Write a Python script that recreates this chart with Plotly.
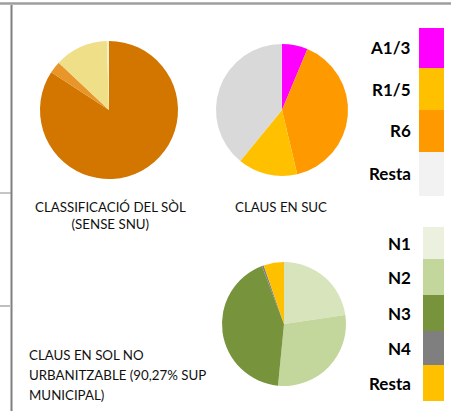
import plotly.graph_objects as go

W, H = 451, 411

# pie 1: classificació del sòl (sense SNU)
sol_labels = ["Urbà", "Urbanitzable", "Sistemes", "Altres"]
sol_values = [84.2, 2.8, 12.5, 0.5]
sol_colors = ["#D27600", "#E8962A", "#EEDF88", "#F8F0C8"]

# pie 2: claus en SUC
suc_labels = ["A1/3", "R6", "R1/5", "Resta"]
suc_values = [6.3, 40.0, 14.6, 39.1]
suc_colors = ["#FF00FF", "#FF9900", "#FFC000", "#D9D9D9"]

# pie 3: claus en SNU
snu_labels = ["N1", "N2", "N3", "N4", "Resta"]
snu_values = [22.7, 28.9, 42.7, 0.5, 5.3]
snu_colors = ["#D8E4BC", "#C3D69B", "#77933C", "#7F7F7F", "#FFC000"]

# legends (labels and swatch colours as shown)
leg1_labels = ["A1/3", "R1/5", "R6", "Resta"]
leg1_colors = ["#FF00FF", "#FFC000", "#FF9900", "#F2F2F2"]
leg2_labels = ["N1", "N2", "N3", "N4", "Resta"]
leg2_colors = ["#EBF1DE", "#C3D69B", "#77933C", "#7F7F7F", "#FFC000"]

snu_caption = ["CLAUS EN SOL NO", "URBANITZABLE (90,27% SUP", "MUNICIPAL)"]


def px(x0, x1):
    return [x0 / W, x1 / W]


def py(top, bottom):
    return [1 - bottom / H, 1 - top / H]


fig = go.Figure()

for labels, values, colors, cx, cy, r in [
    (sol_labels, sol_values, sol_colors, 109, 110, 69),
    (suc_labels, suc_values, suc_colors, 282, 110, 66),
    (snu_labels, snu_values, snu_colors, 284, 324, 62),
]:
    fig.add_trace(go.Pie(
        labels=labels,
        values=values,
        marker=dict(colors=colors, line=dict(width=0)),
        sort=False,
        direction="clockwise",
        rotation=0,
        textinfo="none",
        hoverinfo="label+percent",
        showlegend=False,
        domain=dict(x=px(cx - r, cx + r), y=py(cy - r, cy + r)),
    ))

shapes = []
# frame lines
shapes.append(dict(type="line", xref="paper", yref="paper", x0=0, x1=1,
                   y0=1 - 3.5 / H, y1=1 - 3.5 / H, layer="above",
                   line=dict(color="#9E9E9E", width=2.5)))
shapes.append(dict(type="line", xref="paper", yref="paper", x0=11.5 / W, x1=11.5 / W,
                   y0=0, y1=1 - 5 / H, line=dict(color="#7F7F7F", width=2)))
shapes.append(dict(type="line", xref="paper", yref="paper", x0=0, x1=11 / W,
                   y0=1 - 193 / H, y1=1 - 193 / H, line=dict(color="#8C8C8C", width=1)))
shapes.append(dict(type="line", xref="paper", yref="paper", x0=0, x1=11 / W,
                   y0=1 - 306 / H, y1=1 - 306 / H, line=dict(color="#BFBFBF", width=2)))

annotations = []
label_font = dict(family="Lato, Carlito, sans-serif", size=17, color="#000000")


def add_legend(labels, colors, edges, x0, x1):
    for i, (lab, col) in enumerate(zip(labels, colors)):
        top, bottom = edges[i], edges[i + 1]
        shapes.append(dict(type="rect", xref="paper", yref="paper",
                           x0=x0 / W, x1=x1 / W, y0=1 - bottom / H, y1=1 - top / H,
                           fillcolor=col, line=dict(width=0)))
        annotations.append(dict(text="<b>%s</b>" % lab, xref="paper", yref="paper",
                                x=413 / W, y=1 - (top + bottom) / 2 / H,
                                xanchor="right", yanchor="middle", showarrow=False,
                                font=label_font))


add_legend(leg1_labels, leg1_colors, [28, 68, 110, 152, 196], 419, 444)
add_legend(leg2_labels, leg2_colors, [227, 259, 295, 331, 365, 401], 423, 444)

title_font = dict(family="Lato, Carlito, sans-serif", size=13.3, color="#111111")
annotations.append(dict(text="CLASSIFICACIÓ DEL SÒL<br>(SENSE SNU)", xref="paper", yref="paper",
                        x=110 / W, y=1 - 197 / H, xanchor="center", yanchor="top",
                        align="center", showarrow=False, font=title_font))
annotations.append(dict(text="CLAUS EN SUC", xref="paper", yref="paper",
                        x=281 / W, y=1 - 197 / H, xanchor="center", yanchor="top",
                        align="center", showarrow=False, font=title_font))
for i, line in enumerate(snu_caption):
    annotations.append(dict(text=line, xref="paper", yref="paper",
                            x=27 / W, y=1 - (355 + 20 * i) / H, xanchor="left",
                            yanchor="middle", showarrow=False, font=title_font))

fig.update_layout(
    width=W,
    height=H,
    margin=dict(l=0, r=0, t=0, b=0),
    paper_bgcolor="white",
    plot_bgcolor="white",
    shapes=shapes,
    annotations=annotations,
)

fig.write_html("out.html", config={"displayModeBar": False},
               post_script="document.body.style.margin='0';")
